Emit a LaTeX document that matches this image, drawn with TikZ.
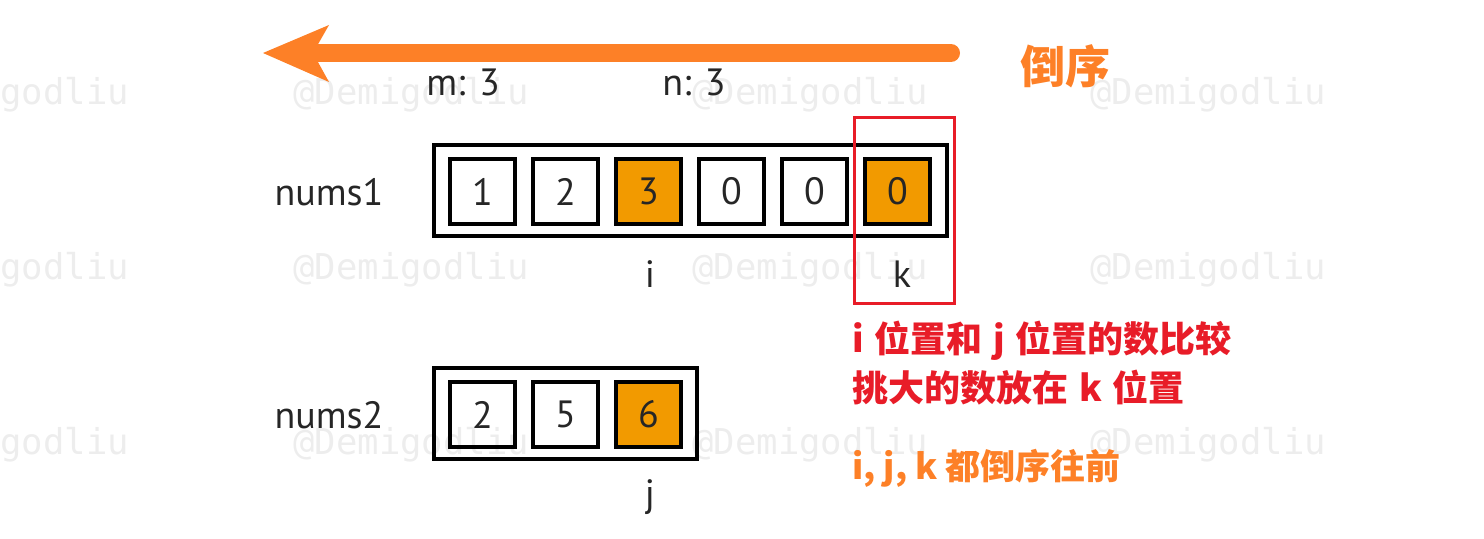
\documentclass[tikz,border=0pt]{standalone}
\usepackage{fontspec}
\setmainfont{PT Sans}
\setmonofont{DejaVu Sans Mono}
\newfontfamily\cjk{Noto Sans CJK SC}
\definecolor{arroworange}{RGB}{253,128,39}
\definecolor{cellorange}{RGB}{242,154,0}
\definecolor{notered}{RGB}{232,28,40}
\definecolor{wmgray}{RGB}{237,237,237}
\tikzset{
  cell/.style={draw=black, line width=2pt, minimum width=32.5pt, minimum height=32.5pt, inner sep=0pt, font=\fontsize{19}{22}\selectfont, text=black!85},
  hot/.style={cell, fill=cellorange},
  outerbox/.style={draw=black, line width=2pt, inner sep=0pt},
  lbl/.style={inner sep=0pt, anchor=base, font=\fontsize{19}{22}\selectfont, text=black!85},
  wm/.style={inner sep=0pt, anchor=base west, font=\ttfamily\fontsize{17.8}{20}\selectfont, text=wmgray},
  note/.style={inner sep=0pt, anchor=base west, font=\cjk\bfseries\fontsize{17.5}{20}\selectfont},
  rednote/.style={note, text=notered, font=\cjk\bfseries\fontsize{18}{20}\selectfont},
}
\begin{document}
\begin{tikzpicture}[x=0.5pt, y=-0.5pt]
\useasboundingbox (0,0) rectangle (1484,539);
% watermarks
\foreach \r/\yy in {1/105, 2/280, 3/455}{
  \foreach \c/\xx in {0/-107, 1/293, 2/692, 3/1090}{
    \node[wm] (wm\r\c) at (\xx,\yy) {@Demigodliu};
  }
}
% arrow
\coordinate (arrR) at (951,53);
\coordinate (arrL) at (318,53);
\draw[arroworange, line width=9pt, line cap=round] (arrR) -- (arrL);
\fill[arroworange] (263,53) -- (329,25) -- (313,53) -- (329,82) -- cycle;
\node[note, text=arroworange, font=\cjk\bfseries\fontsize{22.5}{26}\selectfont] (rev) at (1020,84) {倒序};
% labels
\node[lbl] (m) at (463,96) {m: 3};
\node[lbl] (n) at (694,96) {n: 3};
\node[lbl] (l1) at (329,206) {nums1};
\node[lbl] (l2) at (329,429) {nums2};
% nums1
\node[outerbox, minimum width=256.5pt, minimum height=45.5pt] (a1) at (690.5,190.5) {};
\node[cell] (c1) at (482.5,191.5) {1};
\node[cell] (c2) at (565.5,191.5) {2};
\node[hot]  (c3) at (648.5,191.5) {3};
\node[cell] (c4) at (731.5,191.5) {0};
\node[cell] (c5) at (814.5,191.5) {0};
\node[hot]  (c6) at (897.5,191.5) {0};
% nums2
\node[outerbox, minimum width=131.5pt, minimum height=45.5pt] (a2) at (565.5,413.5) {};
\node[cell] (d1) at (482.5,414.5) {2};
\node[cell] (d2) at (565.5,414.5) {5};
\node[hot]  (d3) at (648.5,414.5) {6};
% pointers
\node[lbl] (pi) at (650,288) {i};
\node[lbl] (pk) at (902,288) {k};
\node[lbl] (pj) at (650,507) {j};
% red frame
\node[draw=notered, line width=1.5pt, minimum width=50pt, minimum height=93pt, inner sep=0pt] (frame) at (904,211) {};
% notes
\node[rednote] (t1) at (852,353) {i\hspace{0.3em}位置和\hspace{0.3em}j\hspace{0.3em}位置的数比较};
\node[rednote] (t2) at (852,402) {挑大的数放在\hspace{0.3em}k\hspace{0.3em}位置};
\node[note, text=arroworange] (t3) at (852,480) {i, j, k 都倒序往前};
\end{tikzpicture}
\end{document}
